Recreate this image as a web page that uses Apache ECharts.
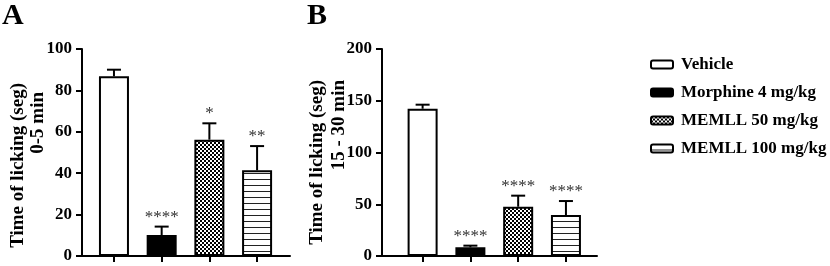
<!DOCTYPE html>
<html>
<head>
<meta charset="utf-8">
<script src="https://cdn.jsdelivr.net/npm/echarts@6/dist/echarts.min.js"></script>
<style>
  html, body { margin: 0; padding: 0; background: #fff; }
  #chart { width: 830px; height: 266px; }
</style>
</head>
<body>
<div id="chart"></div>
<script>
var groups = ['Vehicle', 'Morphine 4 mg/kg', 'MEMLL 50 mg/kg', 'MEMLL 100 mg/kg'];

// panel A: 0-5 min
var meanA = [86.8, 10.1, 56.2, 41.4];
var semA = [3.2, 4.1, 7.9, 11.7];
var sigA = ['', '****', '*', '**'];

// panel B: 15 - 30 min
var meanB = [142.3, 8.4, 47.6, 39.6];
var semB = [3.9, 1.6, 10.7, 13.5];
var sigB = ['', '****', '****', '****'];

var yMaxA = 100, yStepA = 20;
var yMaxB = 200, yStepB = 50;

var serif = '"Liberation Serif", "Times New Roman", serif';

function makePattern(w, h, draw) {
	var c = document.createElement('canvas');
	c.width = w;
	c.height = h;
	var ctx = c.getContext('2d');
	ctx.fillStyle = '#fff';
	ctx.fillRect(0, 0, w, h);
	draw(ctx);
	return { image: c, repeat: 'repeat' };
}

var checker = makePattern(4, 4, function(ctx) {
	ctx.fillStyle = '#000';
	ctx.fillRect(0, 0, 2, 2);
	ctx.fillRect(2, 2, 2, 2);
});
var stripes = makePattern(4, 6, function(ctx) {
	ctx.fillStyle = '#222';
	ctx.fillRect(0, 5, 4, 1);
});
var fills = ['#fff', '#000', checker, stripes];

var chart = echarts.init(document.getElementById('chart'), null, { renderer: 'canvas' });

function barSeries(g, means) {
	return groups.map(function(name, i) {
		return {
			type: 'bar',
			name: name,
			xAxisIndex: g,
			yAxisIndex: g,
			data: [[i, means[i]]],
			barWidth: 30,
			barGap: '-100%',
			itemStyle: { color: fills[i], borderColor: '#000', borderWidth: 2 },
			animation: false
		};
	});
}

function errorSeries(g, means, sems, sigs) {
	return {
		type: 'custom',
		xAxisIndex: g,
		yAxisIndex: g,
		z: 5,
		silent: true,
		animation: false,
		data: means.map(function(m, i) { return [i, m, sems[i]]; }),
		encode: { x: 0, y: 1 },
		renderItem: function(params, api) {
			var x = api.value(0), m = api.value(1), e = api.value(2);
			var p0 = api.coord([x, m]);
			var p1 = api.coord([x, m + e]);
			var ls = { stroke: '#000', lineWidth: 2 };
			return {
				type: 'group',
				children: [
					{ type: 'line', shape: { x1: p0[0], y1: p0[1], x2: p1[0], y2: p1[1] }, style: ls },
					{ type: 'line', shape: { x1: p1[0] - 7, y1: p1[1], x2: p1[0] + 7, y2: p1[1] }, style: ls },
					{ type: 'text', x: p1[0], y: p1[1] - 1, style: {
						text: sigs[params.dataIndex], align: 'center', verticalAlign: 'bottom',
						font: '17px ' + serif, fill: '#333'
					} }
				]
			};
		}
	};
}

function xAxis(g, min, max) {
	return {
		type: 'value',
		gridIndex: g,
		min: min,
		max: max,
		axisLine: { show: true, onZero: false, lineStyle: { color: '#000', width: 2 } },
		axisTick: { show: true, length: 6, customValues: [0, 1, 2, 3], lineStyle: { color: '#000', width: 2 } },
		axisLabel: { show: false },
		splitLine: { show: false }
	};
}

function yAxis(g, max, step) {
	return {
		type: 'value',
		gridIndex: g,
		min: 0,
		max: max,
		interval: step,
		axisLine: { show: true, onZero: false, lineStyle: { color: '#000', width: 2 } },
		axisTick: { show: true, length: 6, lineStyle: { color: '#000', width: 2 } },
		axisLabel: { color: '#000', fontFamily: serif, fontWeight: 'bold', fontSize: 17, margin: 10 },
		splitLine: { show: false }
	};
}

function yTitle(x, y, text) {
	return {
		type: 'text', x: x, y: y, rotation: Math.PI / 2,
		style: { text: text, align: 'right', verticalAlign: 'middle', font: 'bold 19px ' + serif, fill: '#000' }
	};
}

var panelStyle = { fontFamily: serif, fontWeight: 'bold', fontSize: 30, color: '#000' };

chart.setOption({
	animation: false,
	title: [
		{ text: 'A', left: 2, top: 1, padding: 0, textStyle: panelStyle },
		{ text: 'B', left: 307, top: 1, padding: 0, textStyle: panelStyle }
	],
	legend: {
		orient: 'vertical',
		left: 645,
		top: 51,
		itemWidth: 22,
		itemHeight: 8,
		itemGap: 11,
		selectedMode: false,
		data: groups,
		itemStyle: { borderColor: '#000', borderWidth: 2 },
		textStyle: { fontFamily: serif, fontWeight: 'bold', fontSize: 17, color: '#000', padding: [0, 0, 0, 3] }
	},
	grid: [
		{ left: 82, top: 49, width: 208, height: 207 },
		{ left: 382, top: 49, width: 215, height: 207 }
	],
	xAxis: [xAxis(0, -0.67, 3.69), xAxis(1, -0.85, 3.65)],
	yAxis: [yAxis(0, yMaxA, yStepA), yAxis(1, yMaxB, yStepB)],
	graphic: [
		yTitle(18, 83, 'Time of licking (seg)'),
		yTitle(38, 92, '0-5 min'),
		yTitle(317, 80, 'Time of licking (seg)'),
		yTitle(339, 80, '15 - 30 min')
	],
	series: [].concat(
		barSeries(0, meanA),
		barSeries(1, meanB),
		[errorSeries(0, meanA, semA, sigA), errorSeries(1, meanB, semB, sigB)]
	)
});
</script>
</body>
</html>
